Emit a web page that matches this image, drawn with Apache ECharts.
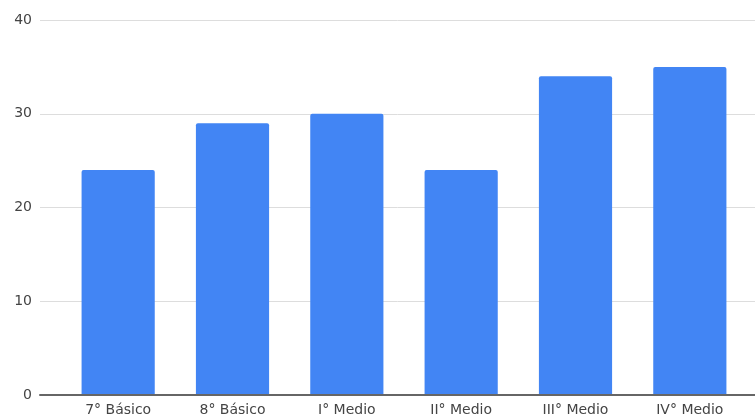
<!DOCTYPE html>
<html>
<head>
<meta charset="utf-8">
<script src="https://cdn.jsdelivr.net/npm/echarts@6/dist/echarts.min.js"></script>
<style>
html,body{margin:0;padding:0;background:#fff;}
#chart{width:755px;height:417px;}
</style>
</head>
<body>
<div id="chart"></div>
<script>
const categories = ['7° Básico', '8° Básico', 'I° Medio', 'II° Medio', 'III° Medio', 'IV° Medio'];
const values = [24, 29, 30, 24, 34, 35];
const yTicks = [0, 10, 20, 30, 40];

const chart = echarts.init(document.getElementById('chart'), null, {renderer: 'canvas'});
const font = 'DejaVu Sans';
chart.setOption({
  animation: false,
  backgroundColor: '#ffffff',
  grid: [
    {left: 40, right: 0, top: 20, bottom: 22, containLabel: false},
    {left: 61, right: 8, top: 20, bottom: 22, containLabel: false}
  ],
  xAxis: [
    {
      gridIndex: 0, type: 'value', min: 0, max: 1,
      axisLabel: {show: false}, axisTick: {show: false}, splitLine: {show: false},
      axisLine: {show: true, lineStyle: {color: '#666666', width: 2}}, z: 5
    },
    {
      gridIndex: 1, type: 'category', data: categories,
      axisLine: {show: false}, axisTick: {show: false},
      axisLabel: {color: '#444444', fontSize: 14, fontFamily: font, margin: 8}
    }
  ],
  yAxis: [
    {
      gridIndex: 0, type: 'value', min: yTicks[0], max: yTicks[yTicks.length - 1], interval: 10,
      axisLine: {show: false}, axisTick: {show: false},
      axisLabel: {color: '#444444', fontSize: 14, fontFamily: font, margin: 8},
      splitLine: {show: true, lineStyle: {color: '#dddddd', width: 1}}
    },
    {
      gridIndex: 1, type: 'value', min: yTicks[0], max: yTicks[yTicks.length - 1], interval: 10,
      axisLine: {show: false}, axisTick: {show: false}, axisLabel: {show: false}, splitLine: {show: false}
    }
  ],
  series: [{
    type: 'bar',
    xAxisIndex: 1, yAxisIndex: 1,
    data: values,
    barCategoryGap: '36%',
    itemStyle: {color: '#4285F4', borderRadius: [2, 2, 0, 0]},
    z: 2
  }]
});
</script>
</body>
</html>
